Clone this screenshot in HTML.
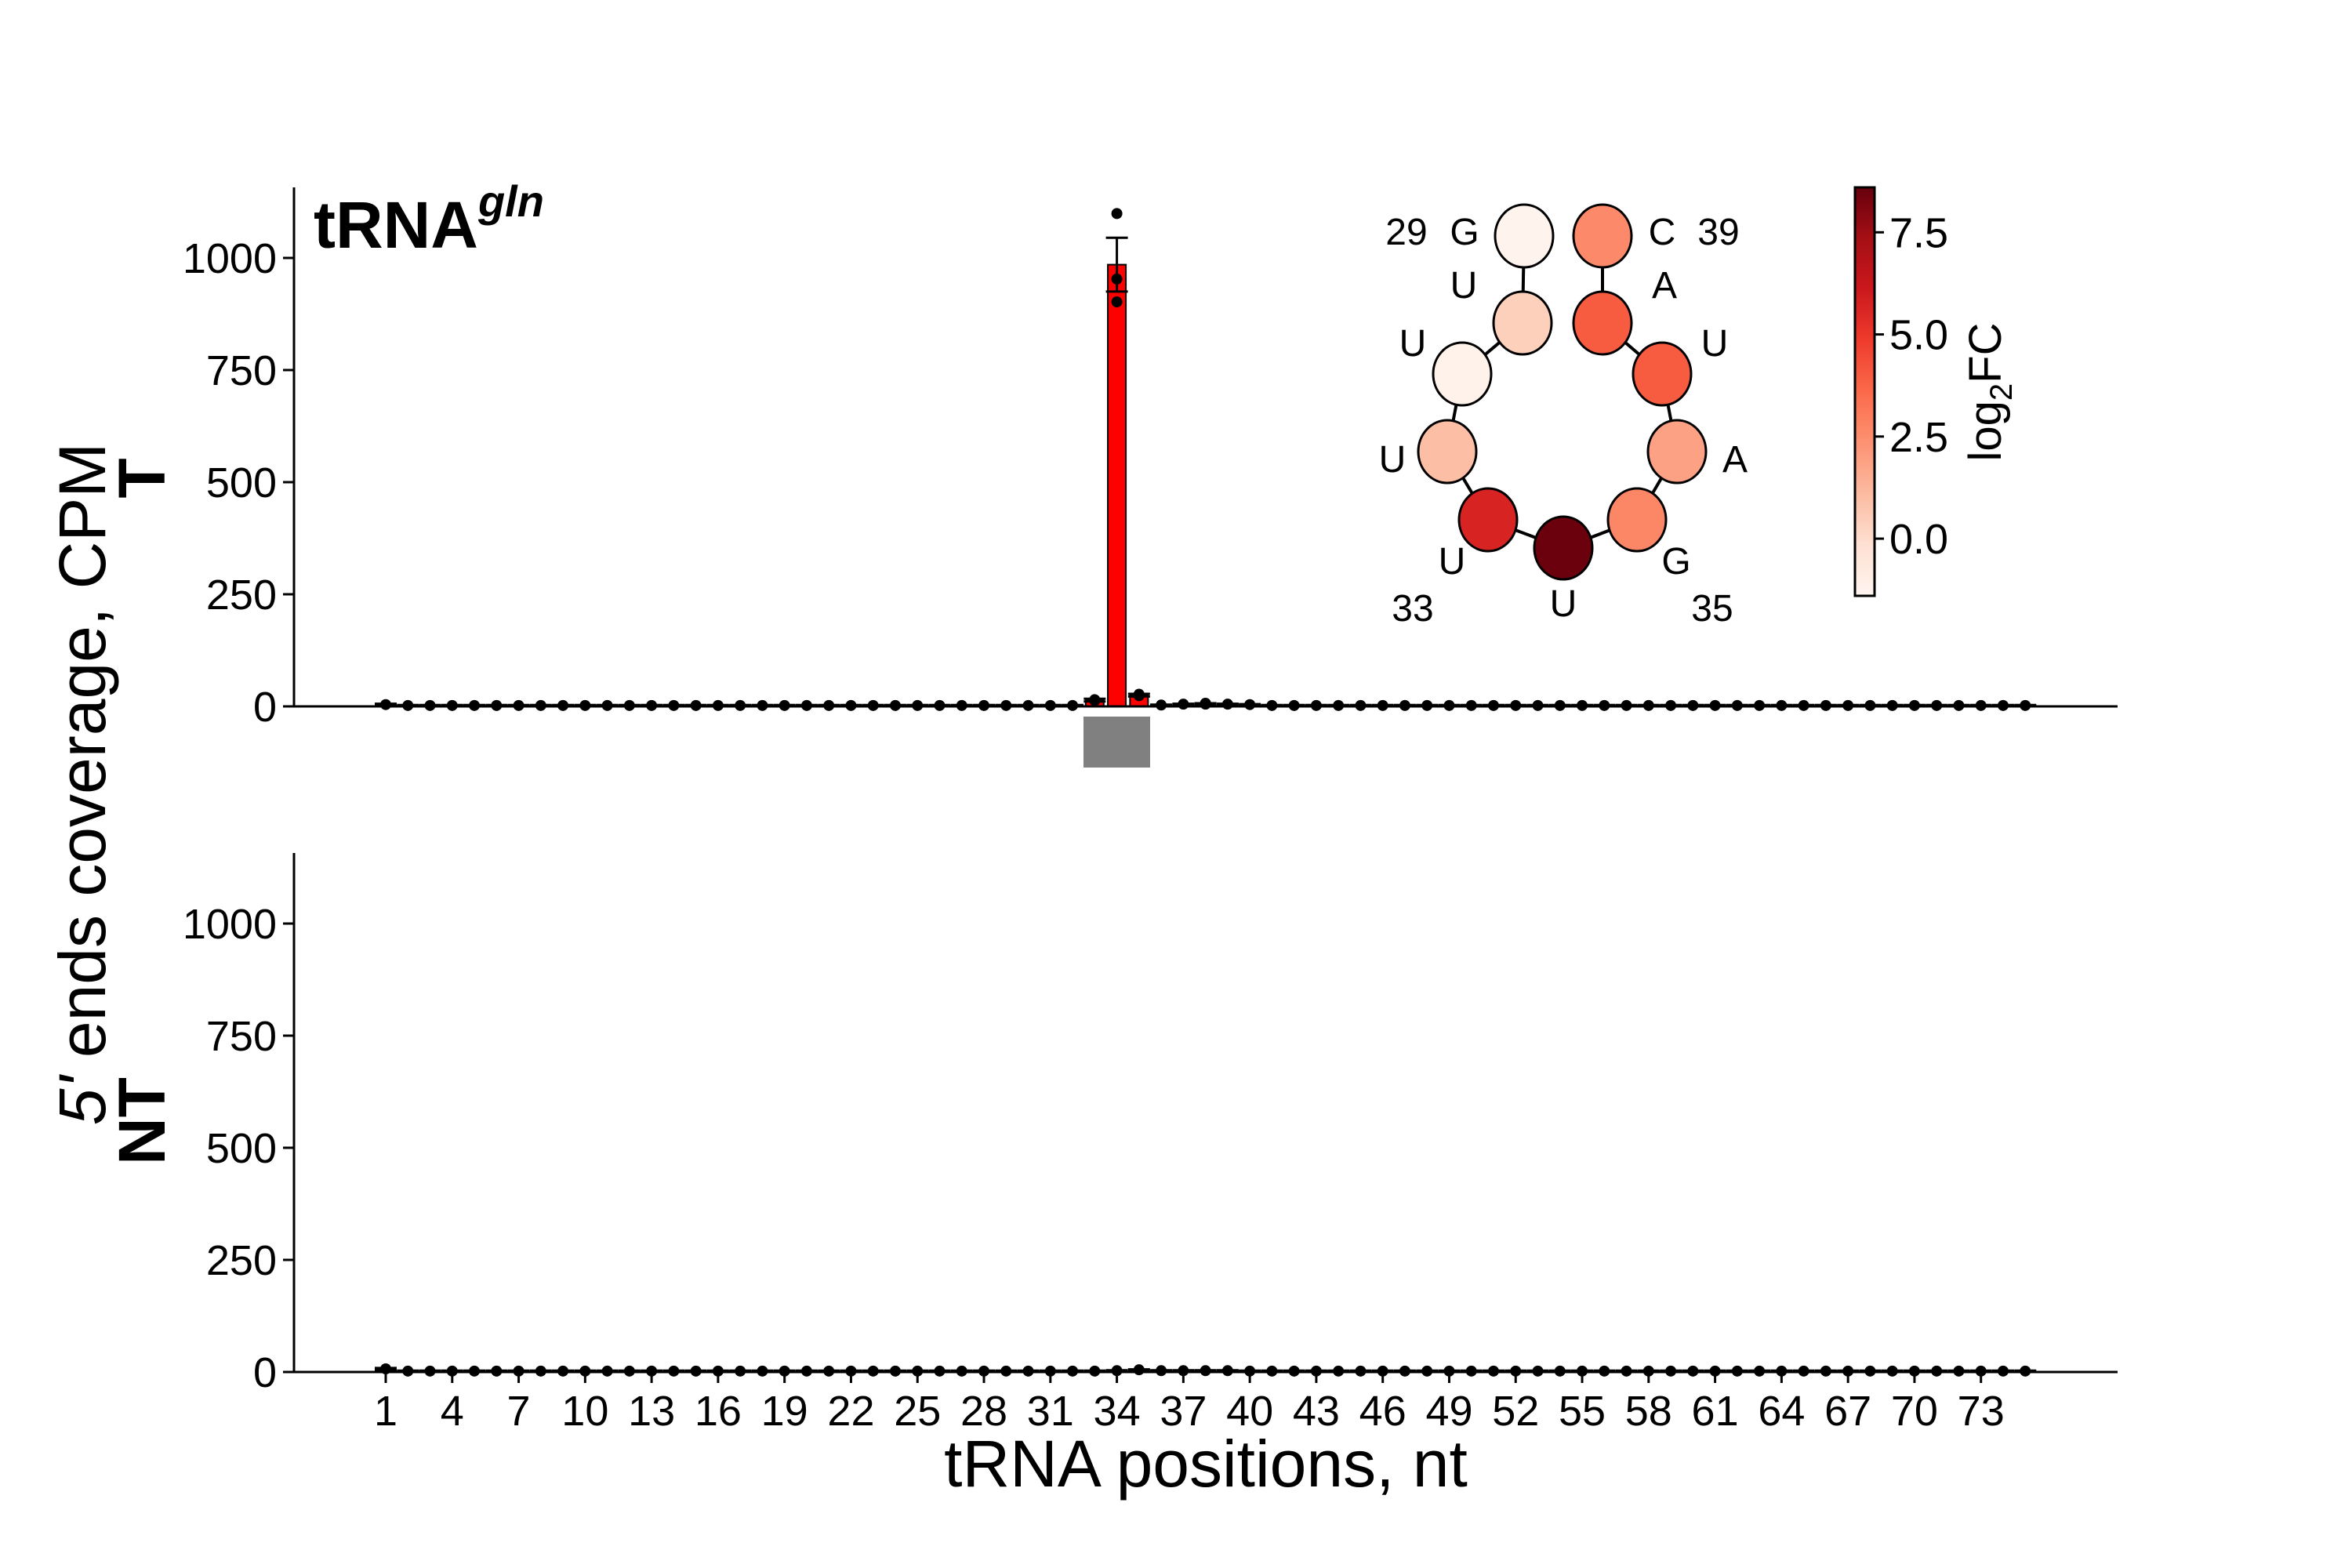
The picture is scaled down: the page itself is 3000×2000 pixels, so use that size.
<!DOCTYPE html>
<html><head><meta charset="utf-8"><style>
html,body{margin:0;padding:0;background:#fff;}
svg{display:block;font-family:"Liberation Sans",Arial,sans-serif;}
</style></head><body>
<svg id="chart" width="3000" height="2000" viewBox="0 0 3000 2000" xmlns="http://www.w3.org/2000/svg">
<defs>
<linearGradient id="reds" x1="0" y1="1" x2="0" y2="0">
<stop offset="0" stop-color="#fff5f0"/><stop offset="0.125" stop-color="#fee0d2"/><stop offset="0.25" stop-color="#fcbba1"/><stop offset="0.375" stop-color="#fc9272"/><stop offset="0.5" stop-color="#fb6a4a"/><stop offset="0.625" stop-color="#ef3b2c"/><stop offset="0.75" stop-color="#cb181d"/><stop offset="0.875" stop-color="#a50f15"/><stop offset="1" stop-color="#67000d"/>
</linearGradient>
</defs>
<g id="top"></g>
<g id="bot"></g>
<g id="inset"></g>
<text x="400" y="316" font-size="84" font-weight="bold">tRNA<tspan font-size="56" font-style="italic" dy="-40">gln</tspan></text>
<text transform="translate(134,1000) rotate(-90)" text-anchor="middle" font-size="84"><tspan font-style="italic">5'</tspan> ends coverage, CPM</text>
<text transform="translate(210,610) rotate(-90)" text-anchor="middle" font-size="84" font-weight="bold">T</text>
<text transform="translate(210,1430) rotate(-90)" text-anchor="middle" font-size="84" font-weight="bold">NT</text>
<text x="1538" y="1896" text-anchor="middle" font-size="84">tRNA positions, nt</text>
<rect x="1382" y="914" width="85" height="65" fill="#808080"/>
</svg>
<script>
const positions = Array.from({length:75},(_,i)=>i+1);
const tMean = [4,2,2,2,2,2,2,2,2,2,2,2,2,2,2,2,2,2,2,2,2,2,2,2,2,2,2,2,2,2,2,2,14,985,25,3,5,6,5,4,2,2,2,2,2,2,2,2,2,2,2,2,2,2,2,2,2,2,2,2,2,2,2,2,2,2,2,2,2,2,2,2,2,2,2];
const tErr = positions.map(p=> p===34?60:(p===33||p===35?3:(p===1?2:1)));
const ntMean = [7,2,2,2,2,2,2,2,2,2,2,2,2,2,2,2,2,2,2,2,2,2,2,2,2,2,2,2,2,2,2,2,2,3,5,3,3,3,3,2,2,2,2,2,2,2,2,2,2,2,2,2,2,2,2,2,2,2,2,2,2,2,2,2,2,2,2,2,2,2,2,2,2,2,2];
const tRepExtra = {33:[13,15,14],34:[1099,953,902],35:[27,24,24],38:[7,6,5]};
const yTicks = [0,250,500,750,1000];
const xTickLabels = [1,4,7,10,13,16,19,22,25,28,31,34,37,40,43,46,49,52,55,58,61,64,67,70,73];
const loopNts = ["G","U","U","U","U","U","G","A","U","A","C"];
const loopFC = [-1.3,0.4,-1.2,1.0,5.7,8.5,2.7,1.9,4.0,4.0,2.6];
const cbTicks = [0.0,2.5,5.0,7.5];

const NS="http://www.w3.org/2000/svg";
function mk(tag,attrs,parent){const e=document.createElementNS(NS,tag);for(const k in attrs)e.setAttribute(k,attrs[k]);parent.appendChild(e);return e;}
const X0=375, X1=2701, step=28.26;
function xs(p){return 492+(p-1)*step;}
function panel(g,y0,mean,err,reps,fill,hasTicks){
  const ys=v=>y0-v*0.572;
  const yax=mk('line',{x1:X0,y1:y0-662,x2:X0,y2:y0,stroke:'#000','stroke-width':3},g);
  
  
  yTicks.forEach(t=>{
    const l=mk('line',{x1:X0-14,y1:ys(t),x2:X0,y2:ys(t),stroke:'#000','stroke-width':3},g);
    
    
    const tx=mk('text',{x:X0-22,y:ys(t)+19,'text-anchor':'end','font-size':54},g);tx.textContent=t;
    
    
  });
  positions.forEach((p,i)=>{
    const v=mean[i];const bw=23;
    const r=mk('rect',{x:xs(p)-bw/2,y:ys(v),width:bw,height:v*0.572,fill:fill,stroke:'#000','stroke-width':2},g);
    
    
    const e=err[i];
    mk('line',{x1:xs(p),y1:ys(v+e),x2:xs(p),y2:ys(Math.max(0,v-e)),stroke:'#000','stroke-width':3},g);
    mk('line',{x1:xs(p)-14,y1:ys(v+e),x2:xs(p)+14,y2:ys(v+e),stroke:'#000','stroke-width':3},g);
    mk('line',{x1:xs(p)-14,y1:ys(Math.max(0,v-e)),x2:xs(p)+14,y2:ys(Math.max(0,v-e)),stroke:'#000','stroke-width':3},g);
    const rv=(reps&&reps[p])?reps[p]:[v];
    rv.forEach(val=>{const c=mk('circle',{cx:xs(p),cy:ys(val),r:7,fill:'#000'},g);
      
      });
  });
  const xax=mk('line',{x1:X0,y1:y0,x2:X1,y2:y0,stroke:'#000','stroke-width':3},g);
  
  
  if(hasTicks){
    xTickLabels.forEach(t=>{
      const l=mk('line',{x1:xs(t),y1:y0,x2:xs(t),y2:y0+14,stroke:'#000','stroke-width':3},g);
      
      
      const tx=mk('text',{x:xs(t),y:y0+68,'text-anchor':'middle','font-size':54},g);tx.textContent=t;
      
      
    });
  }
}
panel(document.getElementById('top'),901,tMean,tErr,tRepExtra,'#ff0000',false);
panel(document.getElementById('bot'),1750,ntMean,positions.map(p=>p===1?2:1),null,'#555',true);

const stops=["#fff5f0","#fee0d2","#fcbba1","#fc9272","#fb6a4a","#ef3b2c","#cb181d","#a50f15","#67000d"];
const VMIN=-1.4,VMAX=8.6;
function hex(h){return [1,3,5].map(i=>parseInt(h.substr(i,2),16));}
function cmap(v){let t=(v-VMIN)/(VMAX-VMIN);t=Math.max(0,Math.min(1,t));const f=t*8;const i=Math.min(7,Math.floor(f));const a=hex(stops[i]),b=hex(stops[i+1]);const u=f-i;return 'rgb('+a.map((x,k)=>Math.round(x+(b[k]-x)*u)).join(',')+')';}
const ins=document.getElementById('inset');
const C=[[1944,301],[1942,412],[1865,477],[1846,576],[1898,663],[1994,699],[2088,663],[2139,576],[2120,477],[2044,412],[2044,301]];
for(let i=0;i<C.length-1;i++){ mk('line',{x1:C[i][0],y1:C[i][1],x2:C[i+1][0],y2:C[i+1][1],stroke:'#000','stroke-width':4},ins);}
C.forEach((c,i)=>{const e=mk('ellipse',{cx:c[0],cy:c[1],rx:37,ry:40,fill:cmap(loopFC[i]),stroke:'#000','stroke-width':3},ins);
  
  });
const L=[[1868,312],[1867,380],[1802,454],[1776,602],[1852,732],[1994,786],[2138,732],[2213,602],[2187,454],[2123,380],[2120,312]];
L.forEach((l,i)=>{const t=mk('text',{x:l[0],y:l[1],'text-anchor':'middle','font-size':48},ins);t.textContent=loopNts[i];
  
  });
[["29",1794,312],["39",2192,312],["33",1802,792],["35",2184,792]].forEach(a=>{const t=mk('text',{x:a[1],y:a[2],'text-anchor':'middle','font-size':48},ins);t.textContent=a[0];
  
  });
const cb=mk('rect',{x:2366,y:239,width:25,height:521,fill:'url(#reds)',stroke:'#000','stroke-width':3},ins);


const cy=v=>760-(v-VMIN)/(VMAX-VMIN)*521;
cbTicks.forEach(v=>{mk('line',{x1:2391,y1:cy(v),x2:2403,y2:cy(v),stroke:'#000','stroke-width':3},ins);
  const t=mk('text',{x:2410,y:cy(v)+19,'font-size':54},ins);t.textContent=v.toFixed(1);
  
  });
const cl=mk('text',{transform:'translate(2552,500) rotate(-90)','text-anchor':'middle','font-size':58},ins);
cl.innerHTML='log<tspan font-size="40" dy="14">2</tspan><tspan dy="-14">FC</tspan>';


</script>
</body></html>
